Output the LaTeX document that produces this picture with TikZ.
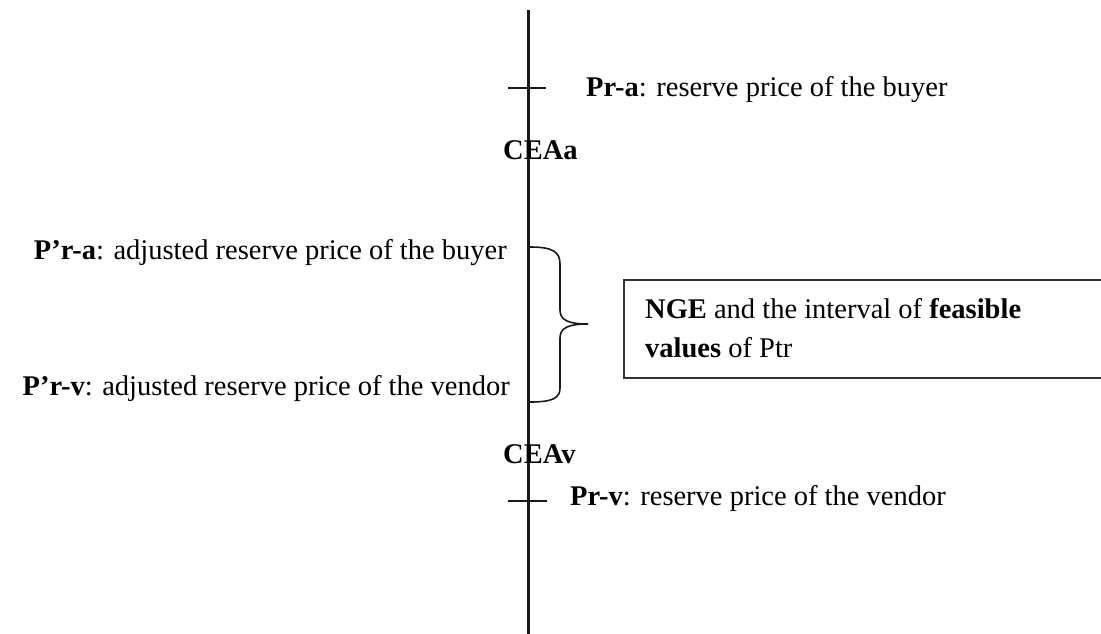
\documentclass[tikz,border=0pt]{standalone}
\usepackage{fontspec}
\setmainfont{Liberation Serif}
\begin{document}
\begin{tikzpicture}[x=1pt,y=-1pt,
  lbl/.style={font=\fontsize{28.5}{34}\selectfont, inner sep=0pt, anchor=base west},
  lblr/.style={font=\fontsize{28.5}{34}\selectfont, inner sep=0pt, anchor=base east},
  axisline/.style={line width=3pt, draw=black!90},
  thin/.style={line width=1.8pt, draw=black!90}]
\useasboundingbox (0,0) rectangle (1101,634);
\clip (0,0) rectangle (1101,634);
% axis
\coordinate (top) at (528,10);
\coordinate (bot) at (528,640);
\draw[axisline] (top) -- (bot);
% ticks
\coordinate (ta1) at (508,88);
\coordinate (ta2) at (546,88);
\coordinate (tv1) at (508,501);
\coordinate (tv2) at (547,501);
\draw[thin] (ta1) -- (ta2);
\draw[thin] (tv1) -- (tv2);
% labels
\node[lbl] (pra) at (586,96) {\textbf{Pr-a}: reserve price of the buyer};
\node[lbl] (ceaa) at (503,159) {\textbf{CEAa}};
\node[lblr] (ppra) at (507,259) {\textbf{P’r-a}: adjusted reserve price of the buyer};
\node[lblr] (pprv) at (510,395) {\textbf{P’r-v}: adjusted reserve price of the vendor};
\node[lbl] (ceav) at (503,463) {\textbf{CEAv}};
\node[lbl] (prv) at (570,505) {\textbf{Pr-v}: reserve price of the vendor};
% brace
\coordinate (b1) at (530,247);
\coordinate (tip) at (588,324);
\coordinate (b2) at (530,402);
\draw[thin, line width=1.6pt] (b1) .. controls (553,247) and (560,252) .. (560,264) -- (560,310)
  .. controls (560,320) and (568,324) .. (tip)
  .. controls (568,324) and (560,328) .. (560,338) -- (560,388)
  .. controls (560,398) and (553,402) .. (b2);
% box
\node[draw=black!80, line width=1.8pt, minimum width=490pt, minimum height=98pt, anchor=north west, inner sep=0pt] (box) at (623,279) {};
\node[lbl] (t1) at (645,318) {\textbf{NGE} and the interval of \textbf{feasible}};
\node[lbl] (t2) at (645,357) {\textbf{values} of Ptr};
\end{tikzpicture}
\end{document}
